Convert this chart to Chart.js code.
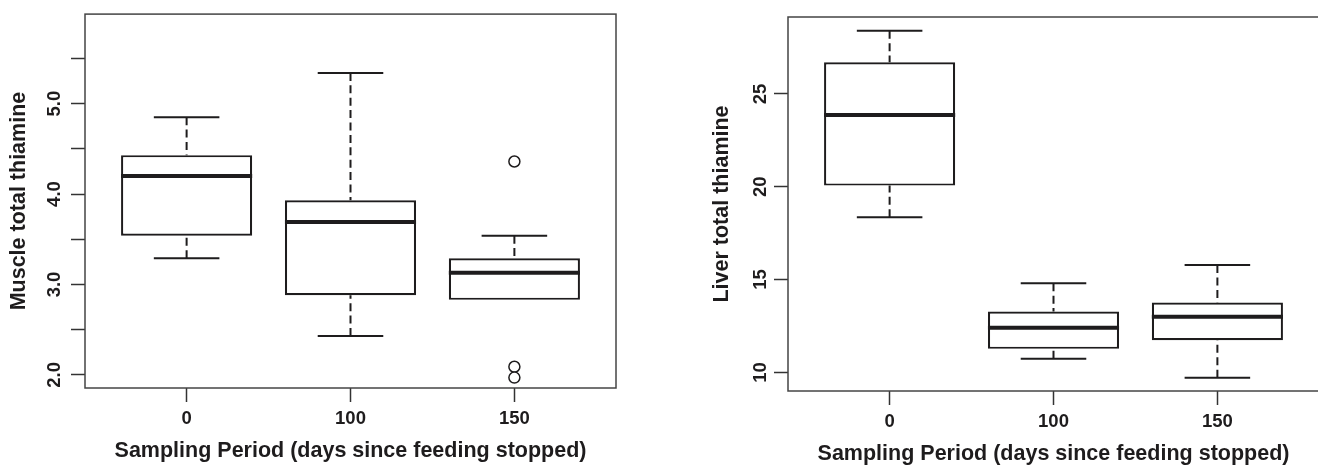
<!DOCTYPE html>
<html>
<head>
<meta charset="utf-8">
<script src="https://cdn.jsdelivr.net/npm/chart.js@4"></script>
<style>
  html, body { margin: 0; padding: 0; background: #fff; overflow: hidden; }
  body { width: 1318px; height: 466px; position: relative; }
  canvas { position: absolute; }
  #muscle { left: 0; top: 0; }
  #liver  { left: 703px; top: 3px; }
</style>
</head>
<body>
<canvas id="muscle" width="659" height="466"></canvas>
<canvas id="liver" width="659" height="466"></canvas>
<script>
// ─── Data ────────────────────────────────────────────────────────────────────

const periods = ['0', '100', '150'];

// Muscle total thiamine – five-number summaries per sampling period
const muscleLower  = [3.29, 2.43, 2.83];
const muscleQ1     = [3.54, 2.88, 2.83];
const muscleMedian = [4.20, 3.69, 3.13];
const muscleQ3     = [4.43, 3.93, 3.29];
const muscleUpper  = [4.85, 5.34, 3.54];
const muscleOutliers = [[], [], [4.36, 2.09, 1.97]];
const muscleTicks      = [2.0, 2.5, 3.0, 3.5, 4.0, 4.5, 5.0, 5.5];
const muscleTickLabels = ['2.0', '', '3.0', '', '4.0', '', '5.0', ''];

// Liver total thiamine
const liverLower  = [18.36, 10.74, 9.72];
const liverQ1     = [20.06, 11.27, 11.73];
const liverMedian = [23.86, 12.40, 13.00];
const liverQ3     = [26.70, 13.28, 13.76];
const liverUpper  = [28.40, 14.80, 15.78];
const liverOutliers = [[], [], []];
const liverTicks      = [10, 15, 20, 25];
const liverTickLabels = ['10', '15', '20', '25'];

// ─── Styling ─────────────────────────────────────────────────────────────────

const INK   = '#1e1c1d';
const FONT  = "'Liberation Sans', Arial, Helvetica, sans-serif";
const BOX_W = 0.4;   // half box width in category units
const CAP_W = 0.2;   // half whisker-cap width

Chart.defaults.font.family = FONT;
Chart.defaults.color = INK;

// Draws the R-style frame round the plotting region
const framePlugin = {
  id: 'frame',
  beforeDatasetsDraw(chart) {
    const { ctx, chartArea: a } = chart;
    ctx.save();
    ctx.strokeStyle = '#444';
    ctx.lineWidth = 1.5;
    ctx.strokeRect(a.left, a.top, a.right - a.left, a.bottom - a.top);
    ctx.restore();
  },
};

// ─── Build boxplot datasets from the summary arrays ──────────────────────────

function boxDatasets(lower, q1, median, q3, upper, outliers) {
  const xs = periods.map((p, i) => i + 1);

  const boxes    = xs.map((x, i) => ({ x, y: [q1[i], q3[i]] }));
  const medians  = [];
  const whiskers = [];
  const caps     = [];
  const points   = [];

  xs.forEach((x, i) => {
    medians.push({ x: x - BOX_W, y: median[i] }, { x: x + BOX_W, y: median[i] }, { x, y: null });
    // whiskers run from the cap towards the box, like R's segments()
    [[upper[i], q3[i]], [lower[i], q1[i]]].forEach(([end, hinge]) => {
      if (end === hinge) return;   // zero-length whisker sits on the box edge
      whiskers.push({ x, y: end }, { x, y: hinge }, { x, y: null });
      caps.push({ x: x - CAP_W, y: end }, { x: x + CAP_W, y: end }, { x, y: null });
    });
    outliers[i].forEach(v => points.push({ x, y: v }));
  });

  const lineBase = { type: 'line', pointRadius: 0, borderColor: INK, borderCapStyle: 'butt', spanGaps: false, tension: 0 };

  return [
    { ...lineBase, label: 'median',   data: medians,  borderWidth: 4, order: 0 },
    { ...lineBase, label: 'caps',     data: caps,     borderWidth: 2, order: 1 },
    { ...lineBase, label: 'whiskers', data: whiskers, borderWidth: 2, borderDash: [8, 4.4], order: 2 },
    {
      type: 'line', label: 'outliers', data: points, showLine: false,
      pointRadius: 5.5, pointBorderWidth: 1.5, pointBorderColor: INK,
      pointBackgroundColor: '#fff', order: 3,
    },
    {
      type: 'bar', label: 'box', data: boxes,
      backgroundColor: '#fff', borderColor: INK, borderWidth: 2.2,
      borderSkipped: false, barPercentage: 0.8, categoryPercentage: 1.0, order: 5,
    },
  ];
}

// ─── Chart factory ──────────────────────────────────────────────────────────

function makeBoxChart(canvasId, yTitle, yMin, yMax, ticks, tickLabels, datasets, tickPad) {
  const ctx = document.getElementById(canvasId).getContext('2d');
  return new Chart(ctx, {
    type: 'bar',
    data: { datasets },
    options: {
      responsive: false,
      animation: false,
      devicePixelRatio: 1,
      layout: { padding: { left: 0, top: 14, right: 43, bottom: 0 } },
      plugins: { legend: { display: false }, tooltip: { enabled: false } },
      scales: {
        x: {
          type: 'linear',
          min: 0.38,
          max: 3.62,
          offset: false,
          afterBuildTicks: s => { s.ticks = periods.map((p, i) => ({ value: i + 1 })); },
          afterFit: s => { s.height = 78; },
          grid: { offset: false, drawOnChartArea: false, drawTicks: true, tickLength: 14, tickWidth: 1.5, tickColor: '#333' },
          border: { display: false },
          ticks: {
            autoSkip: false, maxRotation: 0, padding: 5.5, color: INK,
            font: { size: 18.5, weight: 'bold' },
            callback: (v, i) => periods[i],
          },
          title: {
            display: true, text: 'Sampling Period (days since feeding stopped)', color: INK,
            font: { size: 21.5, weight: 'bold', lineHeight: 1 },
            padding: { top: 0, bottom: 3.75 },
          },
        },
        y: {
          type: 'linear',
          position: 'left',
          min: yMin,
          max: yMax,
          beginAtZero: false,
          afterBuildTicks: s => { s.ticks = ticks.map(v => ({ value: v })); },
          afterFit: s => { s.width = 85; },
          grid: { drawOnChartArea: false, drawTicks: true, tickLength: 14, tickWidth: 1.5, tickColor: '#333' },
          border: { display: false },
          ticks: {
            autoSkip: false, minRotation: 90, maxRotation: 90, crossAlign: 'center',
            padding: tickPad, color: INK,
            font: { size: 18.5, weight: 'bold' },
            callback: (v, i) => tickLabels[i],
          },
          title: {
            display: true, text: yTitle, color: INK,
            font: { size: 21.5, weight: 'bold', lineHeight: 1 },
            padding: { top: 8.6, bottom: 0 },
          },
        },
      },
    },
    plugins: [framePlugin],
  });
}

makeBoxChart('muscle', 'Muscle total thiamine', 1.855, 5.99, muscleTicks, muscleTickLabels,
  boxDatasets(muscleLower, muscleQ1, muscleMedian, muscleQ3, muscleUpper, muscleOutliers), 3);

makeBoxChart('liver', 'Liver total thiamine', 9.0, 29.14, liverTicks, liverTickLabels,
  boxDatasets(liverLower, liverQ1, liverMedian, liverQ3, liverUpper, liverOutliers), 2.6);
</script>
</body>
</html>
